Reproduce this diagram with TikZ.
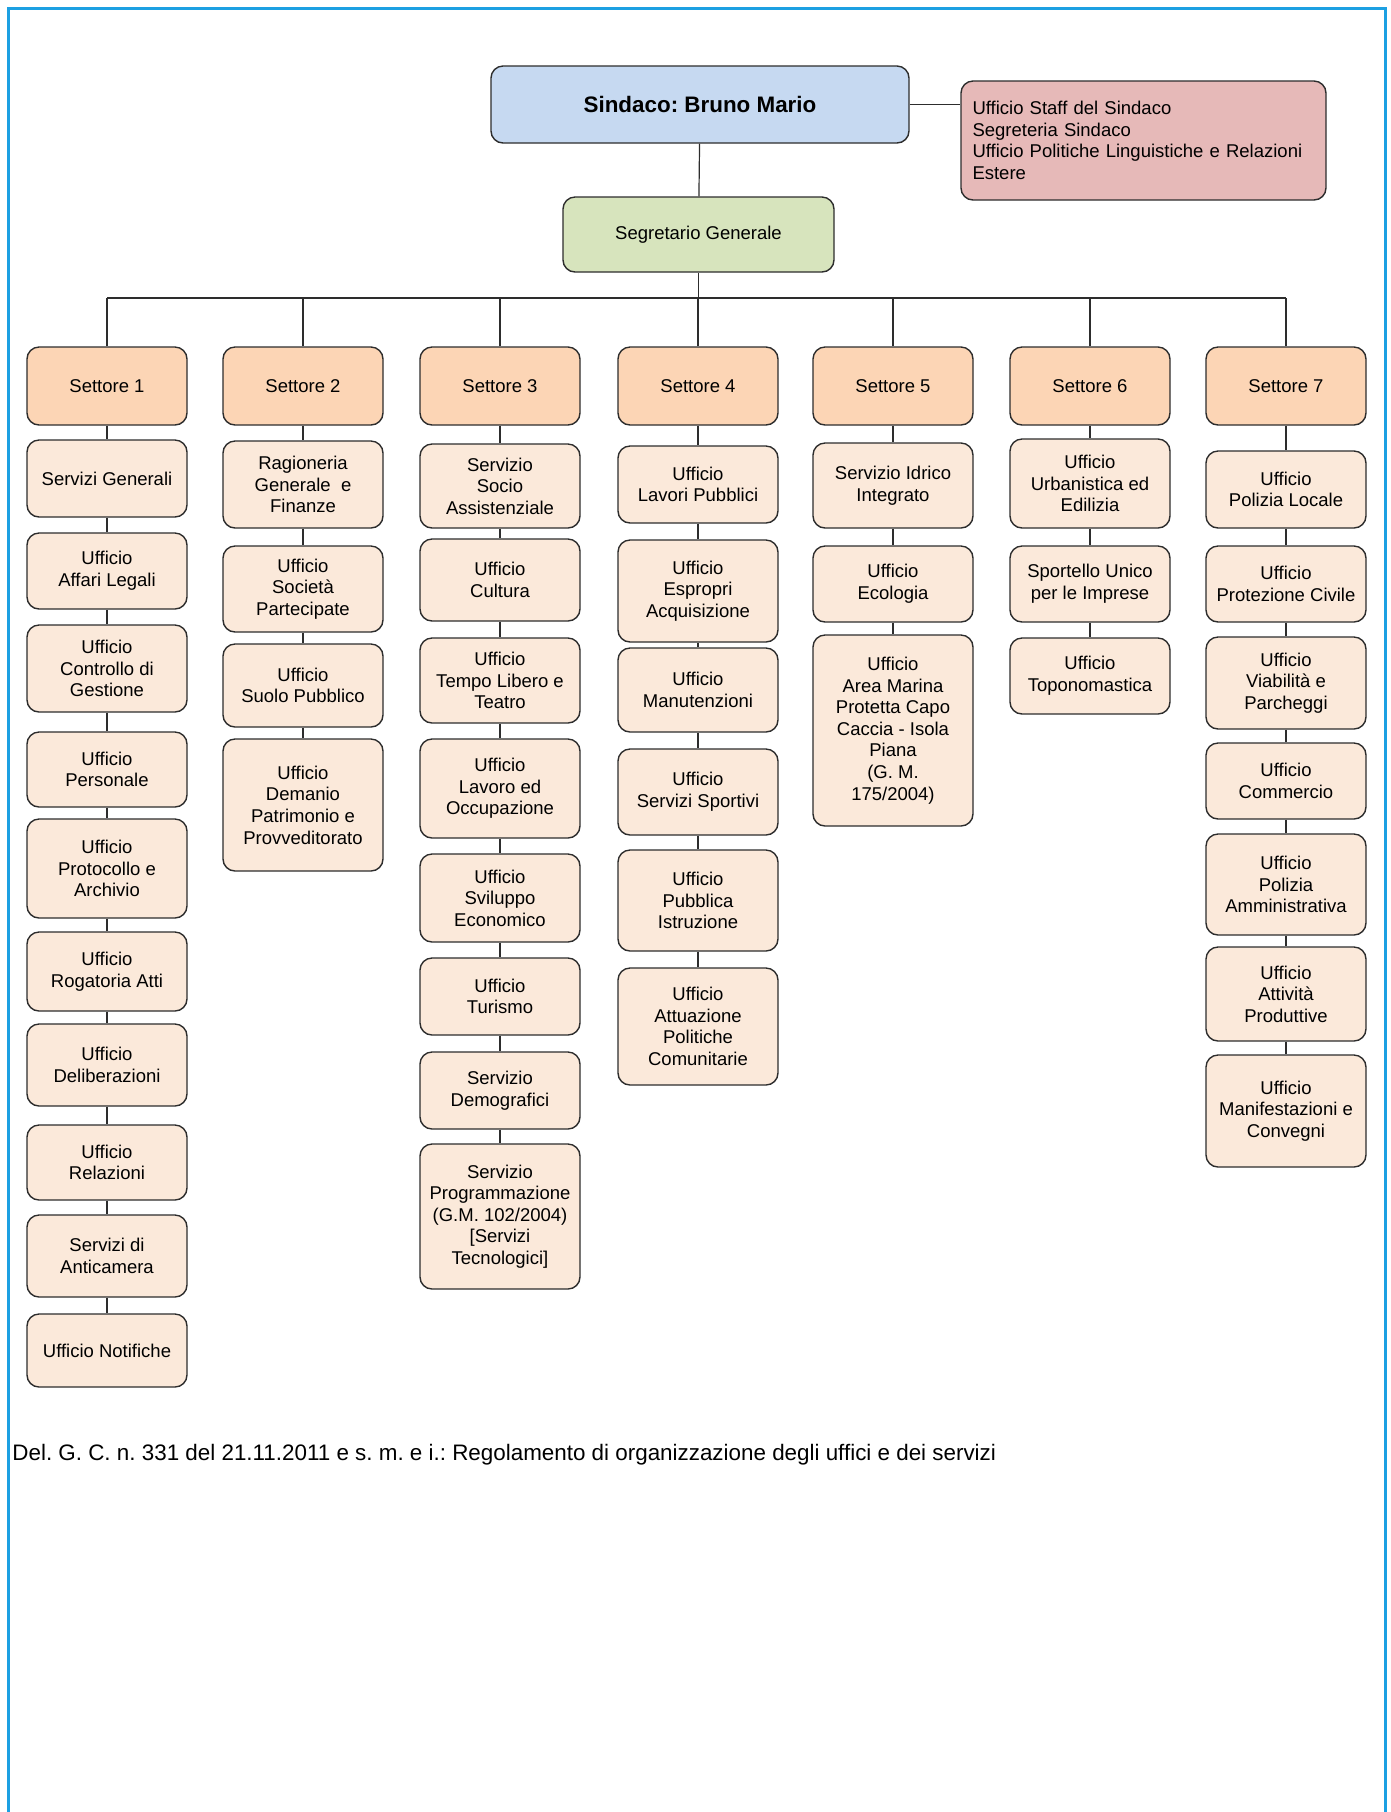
\documentclass[tikz,border=0pt]{standalone}
\usepackage{fontspec}
\setmainfont{Liberation Sans}
\usetikzlibrary{positioning}
\frenchspacing

\definecolor{frameblue}{RGB}{28,160,226}
\definecolor{sindacoblue}{RGB}{198,217,241}
\definecolor{staffpink}{RGB}{230,185,184}
\definecolor{segreen}{RGB}{215,228,189}
\definecolor{settorefill}{RGB}{252,213,181}
\definecolor{ufficiofill}{RGB}{251,233,218}
\definecolor{boxline}{RGB}{45,45,45}

\begin{document}
\begin{tikzpicture}[x=0.5pt, y=-0.5pt,
    box/.style={draw=boxline, line width=0.7pt, rounded corners=6pt, align=center,
        inner sep=2pt, font=\fontsize{9.25}{10.8}\selectfont},
    settore/.style={box, fill=settorefill, minimum width=80pt, minimum height=39pt},
    ufficio/.style={box, fill=ufficiofill, minimum width=80pt},
    link/.style={draw=boxline, line width=0.6pt}]

    % Page and frame
    \useasboundingbox (0,0) rectangle (1391,1812);
    \draw[frameblue, line width=1.5pt] (8.5,1812) -- (8.5,8.5) -- (1385,8.5) -- (1385,1812);

    % Top of the chart
    \node[box, fill=sindacoblue, minimum width=209pt, minimum height=38.5pt,
          font=\fontsize{11.2}{13}\selectfont\bfseries] (sindaco) at (700,104.5) {Sindaco: Bruno Mario};
    \node[box, fill=staffpink, minimum width=182.5pt, minimum height=59.5pt,
          text width=171pt, align=left, inner sep=5.5pt] (staff) at (1143.5,140.5)
        {Ufficio Staff del Sindaco\\Segreteria Sindaco\\Ufficio Politiche Linguistiche e Relazioni\\Estere};
    \node[box, fill=segreen, minimum width=135.5pt, minimum height=37.5pt] (seg) at (698.5,234.5) {Segretario Generale};

    % Settori
    \node[settore] (s1) at (107,386) {Settore 1};
    \node[settore] (s2) at (303,386) {Settore 2};
    \node[settore] (s3) at (500,386) {Settore 3};
    \node[settore] (s4) at (698,386) {Settore 4};
    \node[settore] (s5) at (893,386) {Settore 5};
    \node[settore] (s6) at (1090,386) {Settore 6};
    \node[settore] (s7) at (1286,386) {Settore 7};

    % Settore 1
    \node[ufficio, minimum height=38.5pt] (c1a) at (107,478.5) {Servizi Generali};
    \node[ufficio, minimum height=38pt] (c1b) at (107,571) {Ufficio\\Affari Legali};
    \node[ufficio, minimum height=43.5pt] (c1c) at (107,668.5) {Ufficio\\Controllo di\\Gestione};
    \node[ufficio, minimum height=37.5pt] (c1d) at (107,769.5) {Ufficio\\Personale};
    \node[ufficio, minimum height=49.5pt] (c1e) at (107,868.5) {Ufficio\\Protocollo e\\Archivio};
    \node[ufficio, minimum height=39.5pt] (c1f) at (107,971.5) {Ufficio\\Rogatoria Atti};
    \node[ufficio, minimum height=41pt] (c1g) at (107,1065) {Ufficio\\Deliberazioni};
    \node[ufficio, minimum height=37.5pt] (c1h) at (107,1162.5) {Ufficio\\Relazioni};
    \node[ufficio, minimum height=41pt] (c1i) at (107,1256) {Servizi di\\Anticamera};
    \node[ufficio, minimum height=36.5pt] (c1j) at (107,1350.5) {Ufficio Notifiche};

    % Settore 2
    \node[ufficio, minimum height=43.5pt] (c2a) at (303,484.5) {Ragioneria\\Generale~ e\\Finanze};
    \node[ufficio, minimum height=43pt] (c2b) at (303,589) {Ufficio\\Società\\Partecipate};
    \node[ufficio, minimum height=41.5pt] (c2c) at (303,685.5) {Ufficio\\Suolo Pubblico};
    \node[ufficio, minimum height=66pt] (c2d) at (303,805) {Ufficio\\Demanio\\Patrimonio e\\Provveditorato};

    % Settore 3
    \node[ufficio, minimum height=42pt] (c3a) at (500,486) {Servizio\\Socio\\Assistenziale};
    \node[ufficio, minimum height=41pt] (c3b) at (500,580) {Ufficio\\Cultura};
    \node[ufficio, minimum height=42.5pt] (c3c) at (500,680.5) {Ufficio\\Tempo Libero e\\Teatro};
    \node[ufficio, minimum height=49.5pt] (c3d) at (500,788.5) {Ufficio\\Lavoro ed\\Occupazione};
    \node[ufficio, minimum height=44pt] (c3e) at (500,898) {Ufficio\\Sviluppo\\Economico};
    \node[ufficio, minimum height=38.5pt] (c3f) at (500,996.5) {Ufficio\\Turismo};
    \node[ufficio, minimum height=38.5pt] (c3g) at (500,1090.5) {Servizio\\Demografici};
    \node[ufficio, minimum height=72.5pt] (c3h) at (500,1216.5) {Servizio\\Programmazione\\(G.M. 102/2004)\\{[}Servizi\\Tecnologici{]}};

    % Settore 4
    \node[ufficio, minimum height=38.5pt] (c4a) at (698,484.5) {Ufficio\\Lavori Pubblici};
    \node[ufficio, minimum height=51pt] (c4b) at (698,591) {Ufficio\\Espropri\\Acquisizione};
    \node[ufficio, minimum height=42pt] (c4c) at (698,690) {Ufficio\\Manutenzioni};
    \node[ufficio, minimum height=43pt] (c4d) at (698,792) {Ufficio\\Servizi Sportivi};
    \node[ufficio, minimum height=50.5pt] (c4e) at (698,900.5) {Ufficio\\Pubblica\\Istruzione};
    \node[ufficio, minimum height=58.5pt] (c4f) at (698,1026.5) {Ufficio\\Attuazione\\Politiche\\Comunitarie};

    % Settore 5
    \node[ufficio, minimum height=42.5pt] (c5a) at (893,485.5) {Servizio Idrico\\Integrato};
    \node[ufficio, minimum height=38pt] (c5b) at (893,584) {Ufficio\\Ecologia};
    \node[ufficio, minimum height=95.5pt] (c5c) at (893,730.5) {Ufficio\\Area Marina\\Protetta Capo\\Caccia - Isola\\Piana\\(G. M.\\175/2004)};

    % Settore 6
    \node[ufficio, minimum height=44.5pt] (c6a) at (1090,483.5) {Ufficio\\Urbanistica ed\\Edilizia};
    \node[ufficio, minimum height=38pt] (c6b) at (1090,584) {Sportello Unico\\per le Imprese};
    \node[ufficio, minimum height=38pt] (c6c) at (1090,676) {Ufficio\\Toponomastica};

    % Settore 7
    \node[ufficio, minimum height=38.5pt] (c7a) at (1286,489.5) {Ufficio\\Polizia Locale};
    \node[ufficio, minimum height=38pt] (c7b) at (1286,584) {Ufficio\\Protezione Civile};
    \node[ufficio, minimum height=46pt] (c7c) at (1286,683) {Ufficio\\Viabilità e\\Parcheggi};
    \node[ufficio, minimum height=38pt] (c7d) at (1286,781) {Ufficio\\Commercio};
    \node[ufficio, minimum height=50.5pt] (c7e) at (1286,884.5) {Ufficio\\Polizia\\Amministrativa};
    \node[ufficio, minimum height=47pt] (c7f) at (1286,994) {Ufficio\\Attività\\Produttive};
    \node[ufficio, minimum height=56pt] (c7g) at (1286,1111) {Ufficio\\Manifestazioni e\\Convegni};

    % Connectors
    \draw[link] (sindaco) -- (seg);
    \draw[link] (sindaco.east) -- (sindaco.east -| staff.west);
    \coordinate (bus) at (0,298);
    \draw[link] (seg.south) -- (seg.south |- bus);
    \draw[link] (s1.north |- bus) -- (s7.north |- bus);
    \foreach \s in {s1,s2,s3,s4,s5,s6,s7}
        \draw[link] (\s.north) -- (\s.north |- bus);
    \foreach \a/\b in {s1/c1a,c1a/c1b,c1b/c1c,c1c/c1d,c1d/c1e,c1e/c1f,c1f/c1g,c1g/c1h,c1h/c1i,c1i/c1j,
                       s2/c2a,c2a/c2b,c2b/c2c,c2c/c2d,
                       s3/c3a,c3a/c3b,c3b/c3c,c3c/c3d,c3d/c3e,c3e/c3f,c3f/c3g,c3g/c3h,
                       s4/c4a,c4a/c4b,c4b/c4c,c4c/c4d,c4d/c4e,c4e/c4f,
                       s5/c5a,c5a/c5b,c5b/c5c,
                       s6/c6a,c6a/c6b,c6b/c6c,
                       s7/c7a,c7a/c7b,c7b/c7c,c7c/c7d,c7d/c7e,c7e/c7f,c7f/c7g}
        \draw[link] (\a.south) -- (\b.north);

    % Footer
    \node[anchor=base west, inner sep=0pt, font=\fontsize{11.2}{13}\selectfont] (nota) at (12,1460)
        {Del. G. C. n. 331 del 21.11.2011 e s. m. e i.: Regolamento di organizzazione degli uffici e dei servizi};

\end{tikzpicture}
\end{document}
